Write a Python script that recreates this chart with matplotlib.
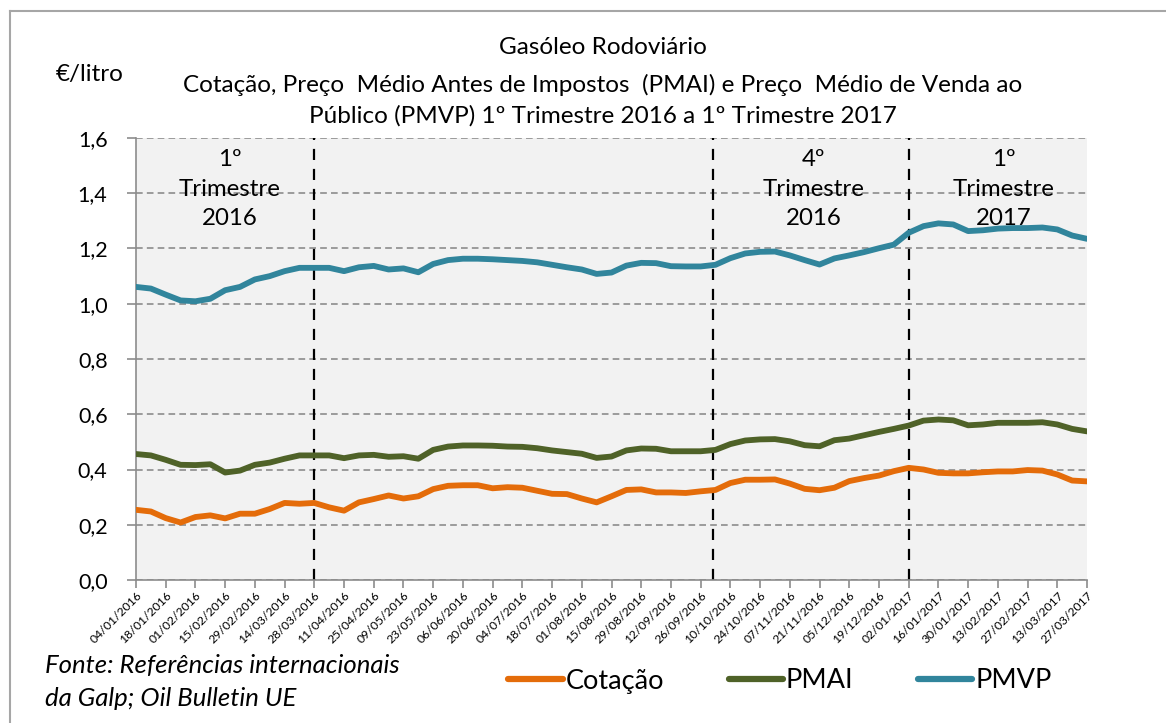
import numpy as np
import pandas as pd
import matplotlib
matplotlib.use("Agg")
import matplotlib.pyplot as plt
from matplotlib.lines import Line2D

plt.rcParams['font.family'] = ['Lato', 'DejaVu Sans']

# Weekly dates
dates = pd.date_range("2016-01-04", "2017-03-27", freq="7D")
date_labels = [d.strftime("%d/%m/%Y") for d in dates]

cotacao = [0.254, 0.248, 0.224, 0.208, 0.228, 0.234, 0.223, 0.240, 0.240, 0.257,
           0.279, 0.276, 0.279, 0.263, 0.251, 0.281, 0.293, 0.306, 0.295, 0.303,
           0.329, 0.341, 0.343, 0.343, 0.332, 0.336, 0.334, 0.323, 0.312, 0.311,
           0.295, 0.281, 0.303, 0.326, 0.328, 0.317, 0.317, 0.315, 0.321, 0.326,
           0.351, 0.363, 0.363, 0.364, 0.349, 0.330, 0.325, 0.334, 0.358, 0.369,
           0.378, 0.394, 0.406, 0.400, 0.388, 0.386, 0.386, 0.390, 0.393, 0.393,
           0.398, 0.396, 0.382, 0.360, 0.357]

pmai = [0.456, 0.451, 0.435, 0.417, 0.416, 0.419, 0.389, 0.396, 0.417, 0.425,
        0.439, 0.451, 0.451, 0.451, 0.441, 0.451, 0.453, 0.446, 0.448, 0.439,
        0.471, 0.483, 0.487, 0.487, 0.486, 0.483, 0.482, 0.477, 0.469, 0.463,
        0.457, 0.442, 0.447, 0.469, 0.476, 0.475, 0.466, 0.466, 0.466, 0.471,
        0.492, 0.505, 0.509, 0.510, 0.502, 0.488, 0.484, 0.506, 0.512, 0.524,
        0.536, 0.547, 0.559, 0.577, 0.581, 0.578, 0.560, 0.563, 0.569, 0.569,
        0.569, 0.571, 0.563, 0.547, 0.538]

pmvp = [1.061, 1.055, 1.033, 1.012, 1.009, 1.018, 1.049, 1.061, 1.088, 1.100,
        1.118, 1.130, 1.130, 1.130, 1.118, 1.132, 1.137, 1.124, 1.128, 1.114,
        1.144, 1.158, 1.163, 1.163, 1.161, 1.158, 1.155, 1.150, 1.141, 1.132,
        1.124, 1.108, 1.113, 1.138, 1.148, 1.147, 1.136, 1.135, 1.135, 1.141,
        1.165, 1.182, 1.188, 1.189, 1.175, 1.158, 1.142, 1.164, 1.175, 1.187,
        1.201, 1.214, 1.257, 1.281, 1.291, 1.287, 1.263, 1.266, 1.272, 1.274,
        1.274, 1.276, 1.269, 1.247, 1.235]

series_names = ["Cotação", "PMAI", "PMVP"]
series_colors = ["#E46C0A", "#4F6228", "#31859C"]

quarter_breaks = [12, 38.8, 52]
quarter_labels = ["1º\nTrimestre\n2016", "4º\nTrimestre\n2016", "1º\nTrimestre\n2017"]
quarter_label_x = [6.3, 45.6, 58.4]

fig = plt.figure(figsize=(11.66, 7.23), dpi=100)
ax = fig.add_axes([136/1166, 1-580/723, (1087-136)/1166, (580-138)/723])
ax.set_facecolor("#F2F2F2")

x = np.arange(len(dates))
for vals, name, col in zip([cotacao, pmai, pmvp], series_names, series_colors):
    ax.plot(x, vals, color=col, lw=4.2, solid_capstyle='round', label=name, zorder=3)

ax.set_xlim(0, len(dates) - 1)
ax.set_ylim(0, 1.6)
yt = np.arange(0, 1.61, 0.2)
ax.set_yticks(yt)
ax.set_yticklabels([f"{v:.1f}".replace(".", ",") for v in yt], fontsize=15.5)
ax.yaxis.grid(True, color="#8C8C8C", ls=(0, (4, 2.5)), lw=1.2)
ax.set_axisbelow(True)
ax.tick_params(axis='y', length=6.5, color="#8C8C8C", width=1.2, pad=14)

ax.set_xticks(x[::2])
ax.set_xticklabels(date_labels[::2], rotation=45, ha='right', rotation_mode='anchor',
                   fontsize=8.8)
ax.tick_params(axis='x', length=6, color="#8C8C8C", width=1.2, pad=1)

for s in ['top', 'right']:
    ax.spines[s].set_visible(False)
for s in ['left', 'bottom']:
    ax.spines[s].set_color("#8C8C8C")
    ax.spines[s].set_linewidth(1.2)

for qb in quarter_breaks:
    ax.axvline(qb, color="black", lw=1.6, ls=(0, (5, 4)), zorder=2)

for lx, lab in zip(quarter_label_x, quarter_labels):
    ax.text(lx, 1.56, lab, ha='center', va='top', fontsize=17.3, linespacing=1.5, zorder=4)

# Titles
title_fs = 17.5
fig.text(603/1166, 1-48/723, "Gasóleo Rodoviário", ha='center', va='center', fontsize=title_fs)
fig.text(603/1166, 1-85/723,
         "Cotação, Preço  Médio Antes de Impostos  (PMAI) e Preço  Médio de Venda ao",
         ha='center', va='center', fontsize=title_fs)
fig.text(603/1166, 1-116/723,
         "Público (PMVP) 1º Trimestre 2016 a 1º Trimestre 2017",
         ha='center', va='center', fontsize=title_fs)
fig.text(90/1166, 1-75/723, "€/litro", ha='center', va='center', fontsize=title_fs)

fig.text(45/1166, 1-665/723, "Fonte: Referências internacionais", ha='left', va='center',
         fontsize=18.5, style='italic')
fig.text(45/1166, 1-698/723, "da Galp; Oil Bulletin UE", ha='left', va='center',
         fontsize=18.5, style='italic')

handles = [Line2D([0], [0], color=c, lw=4.5, solid_capstyle='round') for c in series_colors]
fig.legend(handles, series_names, loc='center', bbox_to_anchor=(780/1166, 1-681/723),
           ncol=3, frameon=False, fontsize=19.5, handlelength=2.0, handletextpad=0.1,
           columnspacing=2.4)

# Outer border (top and left only visible)
fig.add_artist(Line2D([10/1166, 10/1166], [0, 1-11/723], transform=fig.transFigure,
                      color="#A6A6A6", lw=1.5))
fig.add_artist(Line2D([10/1166, 1], [1-11/723, 1-11/723], transform=fig.transFigure,
                      color="#A6A6A6", lw=1.5))

fig.savefig("out.png", dpi=100, facecolor="white")
